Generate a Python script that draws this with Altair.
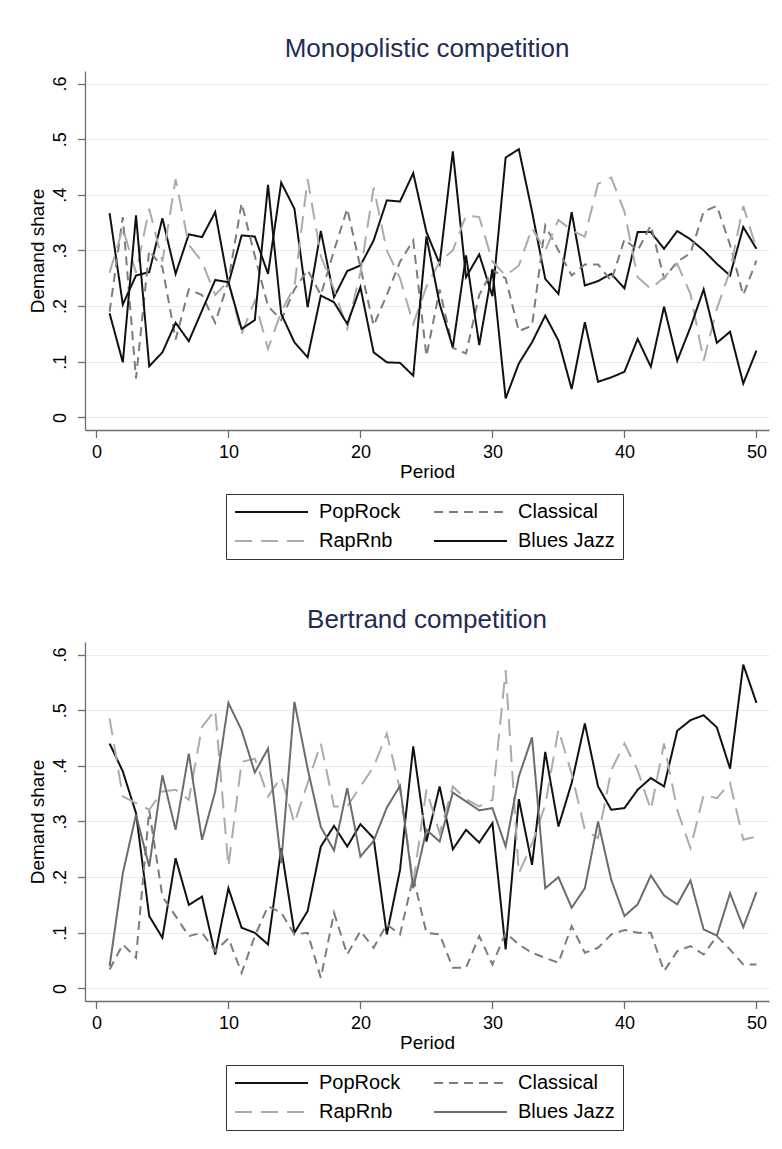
import altair as alt
import pandas as pd

periods = list(range(1, 51))
series_names = ["PopRock", "Classical", "RapRnb", "Blues Jazz"]
# legend entries fill column by column: PopRock / RapRnb, then Classical / Blues Jazz
legend_order = ["PopRock", "RapRnb", "Classical", "Blues Jazz"]

# ---- Monopolistic competition ----
mono_poprock = [0.367, 0.203, 0.255, 0.261, 0.358, 0.258, 0.329, 0.324, 0.369, 0.240,
                0.327, 0.325, 0.258, 0.422, 0.375, 0.198, 0.335, 0.216, 0.263, 0.273,
                0.318, 0.390, 0.388, 0.439, 0.333, 0.276, 0.478, 0.252, 0.293, 0.218,
                0.467, 0.482, 0.370, 0.249, 0.222, 0.369, 0.237, 0.245, 0.258, 0.232,
                0.333, 0.333, 0.303, 0.335, 0.320, 0.300, 0.276, 0.255, 0.342, 0.303]
mono_classical = [0.190, 0.360, 0.070, 0.300, 0.270, 0.140, 0.230, 0.220, 0.170, 0.245,
                  0.385, 0.290, 0.200, 0.175, 0.230, 0.265, 0.220, 0.300, 0.375, 0.270,
                  0.165, 0.220, 0.280, 0.318, 0.110, 0.230, 0.125, 0.115, 0.220, 0.265,
                  0.250, 0.155, 0.165, 0.345, 0.300, 0.255, 0.275, 0.275, 0.245, 0.320,
                  0.300, 0.345, 0.250, 0.280, 0.295, 0.370, 0.380, 0.310, 0.220, 0.282]
mono_raprnb = [0.260, 0.340, 0.260, 0.375, 0.280, 0.428, 0.310, 0.280, 0.220, 0.245,
               0.150, 0.210, 0.123, 0.190, 0.235, 0.428, 0.290, 0.230, 0.160, 0.260,
               0.413, 0.300, 0.250, 0.168, 0.235, 0.280, 0.300, 0.363, 0.360, 0.280,
               0.255, 0.273, 0.340, 0.300, 0.355, 0.336, 0.325, 0.420, 0.431, 0.370,
               0.252, 0.231, 0.252, 0.276, 0.222, 0.102, 0.195, 0.264, 0.380, 0.303]
mono_bluesjazz = [0.187, 0.099, 0.363, 0.092, 0.117, 0.170, 0.137, 0.192, 0.247, 0.243,
                  0.159, 0.175, 0.418, 0.186, 0.135, 0.108, 0.219, 0.207, 0.168, 0.234,
                  0.117, 0.099, 0.098, 0.075, 0.325, 0.204, 0.126, 0.291, 0.130, 0.266,
                  0.034, 0.097, 0.135, 0.183, 0.138, 0.051, 0.171, 0.064, 0.072, 0.082,
                  0.141, 0.091, 0.199, 0.102, 0.162, 0.230, 0.134, 0.154, 0.061, 0.120]

# ---- Bertrand competition ----
bert_poprock = [0.440, 0.390, 0.315, 0.130, 0.091, 0.234, 0.150, 0.165, 0.061, 0.180,
                0.109, 0.100, 0.079, 0.252, 0.100, 0.139, 0.255, 0.292, 0.255, 0.295,
                0.270, 0.097, 0.213, 0.435, 0.264, 0.363, 0.250, 0.285, 0.262, 0.297,
                0.070, 0.340, 0.222, 0.425, 0.291, 0.369, 0.476, 0.363, 0.321, 0.324,
                0.357, 0.378, 0.363, 0.463, 0.482, 0.491, 0.469, 0.395, 0.582, 0.513]
bert_classical = [0.034, 0.079, 0.055, 0.320, 0.165, 0.130, 0.094, 0.100, 0.067, 0.090,
                  0.028, 0.094, 0.148, 0.136, 0.097, 0.100, 0.019, 0.136, 0.061, 0.103,
                  0.073, 0.115, 0.097, 0.200, 0.100, 0.097, 0.037, 0.037, 0.094, 0.043,
                  0.100, 0.079, 0.064, 0.055, 0.046, 0.112, 0.064, 0.073, 0.097, 0.105,
                  0.100, 0.100, 0.031, 0.067, 0.076, 0.061, 0.094, 0.070, 0.043, 0.043]
bert_raprnb = [0.485, 0.345, 0.333, 0.321, 0.354, 0.357, 0.339, 0.470, 0.500, 0.219,
               0.407, 0.413, 0.345, 0.380, 0.297, 0.369, 0.440, 0.327, 0.327, 0.363,
               0.398, 0.458, 0.357, 0.190, 0.357, 0.279, 0.363, 0.340, 0.327, 0.339,
               0.572, 0.207, 0.260, 0.330, 0.465, 0.386, 0.285, 0.270, 0.392, 0.440,
               0.392, 0.321, 0.440, 0.321, 0.252, 0.348, 0.342, 0.369, 0.267, 0.273]
bert_bluesjazz = [0.040, 0.207, 0.312, 0.219, 0.383, 0.285, 0.422, 0.267, 0.354, 0.513,
                  0.464, 0.388, 0.431, 0.225, 0.515, 0.395, 0.290, 0.248, 0.360, 0.237,
                  0.265, 0.325, 0.364, 0.180, 0.285, 0.264, 0.352, 0.336, 0.320, 0.324,
                  0.255, 0.381, 0.451, 0.180, 0.200, 0.145, 0.180, 0.300, 0.195, 0.130,
                  0.151, 0.203, 0.167, 0.151, 0.194, 0.106, 0.095, 0.171, 0.110, 0.173]

x_ticks = [0, 10, 20, 30, 40, 50]
y_ticks = [0, 0.1, 0.2, 0.3, 0.4, 0.5, 0.6]

FONT = "Liberation Sans"
DASHES = {"PopRock": [1, 0], "Classical": [9, 6], "RapRnb": [17, 9], "Blues Jazz": [1, 0]}


def make_df(values_by_series):
    rows = []
    for name, vals in zip(series_names, values_by_series):
        for p, v in zip(periods, vals):
            rows.append({"Period": p, "share": v, "series": name})
    return pd.DataFrame(rows)


def panel(df, title, color_map):
    legend = alt.Legend(
        orient="none", legendX=141, legendY=423, columns=2,
        symbolType="stroke", symbolSize=5329, symbolStrokeWidth=2,
        clipHeight=20, labelFontSize=20, labelFont=FONT, labelColor="#000000",
        labelOffset=10, columnPadding=32, rowPadding=9, padding=8,
        strokeColor="#333333", fillColor="#ffffff",
    )
    return alt.Chart(df).mark_line(strokeWidth=2).encode(
        x=alt.X("Period:Q",
                scale=alt.Scale(domain=[-0.864, 50.95], nice=False, zero=False),
                axis=alt.Axis(values=x_ticks, title="Period", grid=False,
                              labelFontSize=18, titleFontSize=19,
                              labelPadding=6, titlePadding=1, tickSize=7.5)),
        y=alt.Y("share:Q",
                scale=alt.Scale(domain=[-0.0226, 0.6225], nice=False, zero=False),
                axis=alt.Axis(values=y_ticks, title="Demand share", grid=True,
                              labelExpr="datum.value == 0 ? '0' : replace(format(datum.value, '.1f'), '0.', '.')",
                              labelAngle=270, labelAlign="center", labelBaseline="bottom",
                              labelFontSize=18, titleFontSize=19,
                              labelPadding=8, titlePadding=4, tickSize=7.5)),
        color=alt.Color("series:N", title=None,
                        scale=alt.Scale(domain=legend_order,
                                        range=[color_map[s] for s in legend_order]),
                        legend=legend),
        strokeDash=alt.StrokeDash("series:N", title=None,
                                  scale=alt.Scale(domain=legend_order,
                                                  range=[DASHES[s] for s in legend_order]),
                                  legend=legend),
    ).properties(
        width=684, height=359,
        title=alt.TitleParams(title, fontSize=26, font=FONT, fontWeight="normal",
                              color="#1f2d56", offset=9, anchor="middle"),
    )


top = panel(make_df([mono_poprock, mono_classical, mono_raprnb, mono_bluesjazz]),
            "Monopolistic competition",
            {"PopRock": "#111111", "Classical": "#7c7c7c", "RapRnb": "#ababab",
             "Blues Jazz": "#111111"})
bottom = panel(make_df([bert_poprock, bert_classical, bert_raprnb, bert_bluesjazz]),
               "Bertrand competition",
               {"PopRock": "#111111", "Classical": "#7c7c7c", "RapRnb": "#ababab",
                "Blues Jazz": "#6c6c6c"})

chart = alt.vconcat(top, bottom, spacing=47).resolve_scale(
    color="independent", strokeDash="independent"
).resolve_legend(
    color="independent", strokeDash="independent"
).properties(
    padding={"left": 20, "top": 28, "right": 5, "bottom": 5},
    background="#ffffff",
).configure_view(
    strokeWidth=0
).configure_axis(
    labelFont=FONT, titleFont=FONT, labelColor="#000000", titleColor="#000000",
    domainColor="#6e6e6e", tickColor="#6e6e6e", domainWidth=1.3, tickWidth=1.3,
    gridColor="#e3edef", gridWidth=1.2, titleFontWeight="normal",
)

chart.save("out.html", embed_options={"renderer": "svg", "actions": False})
